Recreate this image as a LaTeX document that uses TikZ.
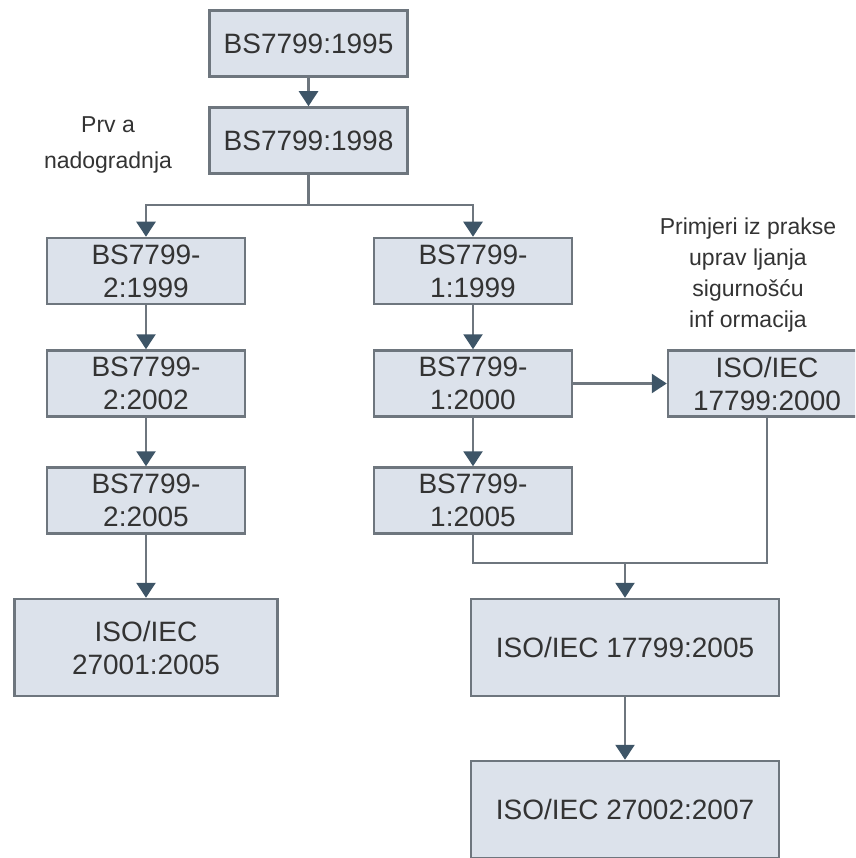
\documentclass[tikz,border=0pt]{standalone}
\usepackage{fontspec}
\setmainfont{Liberation Sans}
\usetikzlibrary{arrows.meta}
\newcommand*{\colw  }{198pt}
\newcommand*{\colh  }{66pt}
\newcommand*{\widew }{308pt}
\newcommand*{\wideh }{97pt}
\definecolor{boxfill}{HTML}{DCE2EB}
\definecolor{boxline}{HTML}{6E767E}
\definecolor{tipcol}{HTML}{3E5567}
\definecolor{txtcol}{HTML}{333333}
\tikzset{
    stdbox/.style  = {draw=boxline, line width=2.5pt, fill=boxfill, text=txtcol, align=center,
                      minimum width=\colw, minimum height=\colh, inner sep=0pt,
                      font=\fontsize{28}{33}\selectfont},
    widebox/.style = {stdbox, minimum width=\widew, minimum height=\wideh},
    note/.style    = {text=txtcol, align=center, inner sep=0pt},
    conn/.style    = {draw=boxline, line width=2.5pt},
    arr/.style     = {conn, -{Triangle[width=19pt,length=15pt,color=tipcol]}},
}

\begin{document}
\begin{tikzpicture}[x=1pt, y=-1pt]
    \useasboundingbox (0,0) rectangle (855,858);
    \clip (0,0) rectangle (855,858);
        \node [stdbox] (bs95) at (308.5, 43.5) {BS7799:1995};
        \node [stdbox] (bs98) at (308.5,140.5) {BS7799:1998};
        \node [note, font=\fontsize{23}{36}\selectfont] (prva) at (108,145) {Prv a\\nadogradnja};
        % lijevi stupac
        \node [stdbox] (bs2a) at (146,271.0) {BS7799-\\2:1999};
        \node [stdbox] (bs2b) at (146,383.5) {BS7799-\\2:2002};
        \node [stdbox] (bs2c) at (146,500.5) {BS7799-\\2:2005};
        \node [widebox, minimum width=263pt] (iso27001) at (146,647.5) {ISO/IEC\\27001:2005};
        % srednji stupac
        \node [stdbox] (bs1a) at (473,271.0) {BS7799-\\1:1999};
        \node [stdbox] (bs1b) at (473,383.5) {BS7799-\\1:2000};
        \node [stdbox] (bs1c) at (473,500.5) {BS7799-\\1:2005};
        \node [stdbox] (iso17799a) at (767,383.5) {ISO/IEC\\17799:2000};
        \node [note, font=\fontsize{23}{31}\selectfont] (praksa) at (748,275)
              {Primjeri iz prakse\\uprav ljanja\\sigurnošću\\inf ormacija};
        \node [widebox] (iso17799b) at (625,647.5) {ISO/IEC 17799:2005};
        \node [widebox] (iso27002)  at (625,809.5) {ISO/IEC 27002:2007};
        \coordinate (fork)  at (308.5,205);
        \coordinate (merge) at (625,563);
        \draw [arr]  (bs95) -- (bs98);
        \draw [conn] (bs98) -- (fork);
        \draw [arr]  (fork) -| (bs2a);
        \draw [arr]  (fork) -| (bs1a);
        \draw [arr]  (bs2a) -- (bs2b);
        \draw [arr]  (bs2b) -- (bs2c);
        \draw [arr]  (bs2c) -- (iso27001);
        \draw [arr]  (bs1a) -- (bs1b);
        \draw [arr]  (bs1b) -- (bs1c);
        \draw [arr]  (bs1b) -- (iso17799a);
        \draw [conn] (bs1c) |- (merge);
        \draw [conn] (iso17799a) |- (merge);
        \draw [arr]  (merge) -- (iso17799b);
        \draw [arr]  (iso17799b) -- (iso27002);
    \end{tikzpicture}
\end{document}
